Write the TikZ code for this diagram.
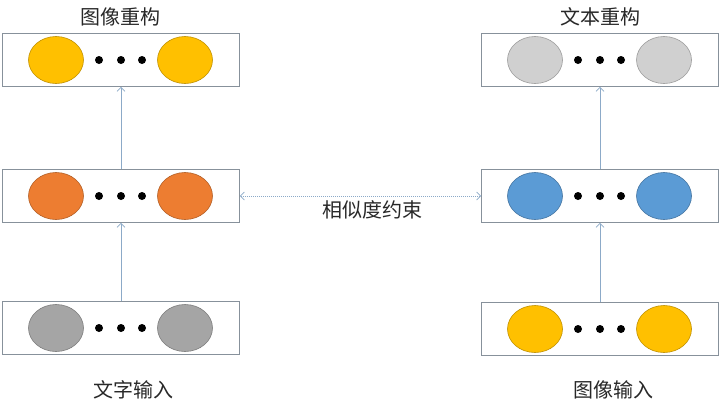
\documentclass[tikz,border=0pt]{standalone}
\usepackage{fontspec}
\newfontfamily\cjk{Noto Sans CJK SC}
\usetikzlibrary{arrows.meta,shapes.geometric}
\definecolor{boxgray}{RGB}{135,145,155}
\definecolor{linkblue}{RGB}{140,170,200}
\definecolor{imgyellow}{RGB}{255,192,0}
\definecolor{midorange}{RGB}{237,125,49}
\definecolor{midblue}{RGB}{91,155,213}
\definecolor{ingray}{RGB}{165,165,165}
\definecolor{outgray}{RGB}{208,208,208}
\definecolor{txtgray}{RGB}{40,40,40}
\begin{document}
\begin{tikzpicture}[x=1pt,y=-1pt,
    layer/.style={draw=boxgray,line width=0.9pt,minimum width=237pt,minimum height=53pt,inner sep=0pt},
    unit/.style={ellipse,fill=#1,draw=#1!75!black,line width=0.6pt,minimum width=55pt,minimum height=47pt,inner sep=0pt},
    link/.style={draw=linkblue,line width=0.7pt,-{Straight Barb[length=4pt,width=8pt]}},
    caption/.style={font=\cjk\fontsize{20pt}{23pt}\selectfont,text=txtgray}]
  \useasboundingbox[fill=white] (0,0) rectangle (720,408);
  % left column: text -> image
  \node[layer] (lin) at (121,328) {};
  \node[layer] (lmid) at (121,196) {};
  \node[layer] (ltop) at (121,60) {};
  % right column: image -> text
  \node[layer] (rin) at (600,329) {};
  \node[layer] (rmid) at (600,196) {};
  \node[layer] (rtop) at (600,60) {};
  \foreach \b/\c in {lin/ingray,lmid/midorange,ltop/imgyellow,rin/imgyellow,rmid/midblue,rtop/outgray}{
    \node[unit=\c] (\b-l) at ([xshift=-65pt]\b.center) {};
    \node[unit=\c] (\b-r) at ([xshift=64pt]\b.center) {};
    \foreach \d in {-22,0,21}
      \fill ([xshift=\d pt]\b.center) circle (4);
  }
  \draw[link] (lin) -- (lmid);
  \draw[link] (lmid) -- (ltop);
  \draw[link] (rin) -- (rmid);
  \draw[link] (rmid) -- (rtop);
  \draw[link,{Straight Barb[length=4pt,width=8pt]}-{Straight Barb[length=4pt,width=8pt]},dash pattern=on 1pt off 1pt] (lmid) -- (rmid);
  \node[caption] (ltitle) at (120,17) {图像重构};
  \node[caption] (rtitle) at (600,17) {文本重构};
  \node[caption] (sim) at (372,210) {相似度约束};
  \node[caption] (lcap) at (133,390) {文字输入};
  \node[caption] (rcap) at (613,390) {图像输入};
\end{tikzpicture}
\end{document}
